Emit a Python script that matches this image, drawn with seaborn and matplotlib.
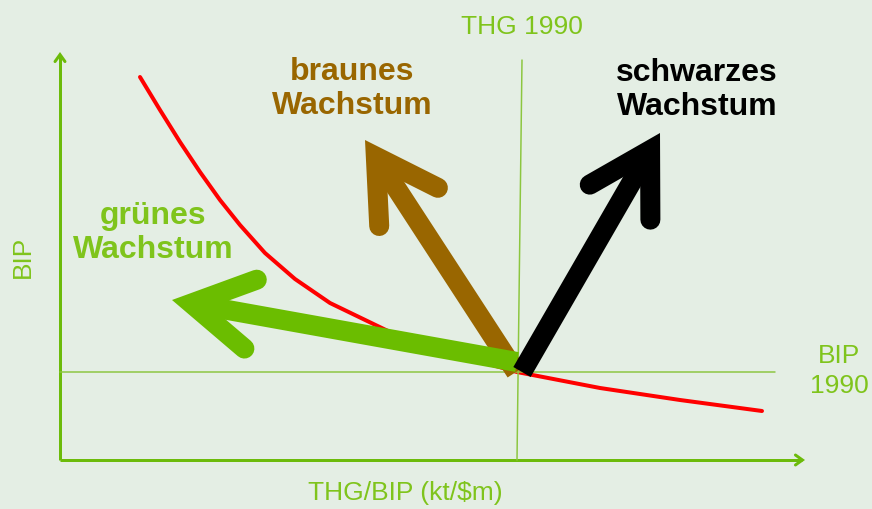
import numpy as np
import pandas as pd
import matplotlib
matplotlib.use('Agg')
import matplotlib.pyplot as plt
import seaborn as sns

# Koordinaten: Ursprung der Achsen = (0, 0), Einheit ~ 1 Pixel
# Kurve konstanter THG-Emissionen
curve_x = [80, 100, 120, 140, 160, 180, 205, 235, 270, 330, 390, 457, 540, 620, 702]
curve_y = [383, 350, 318, 288, 260, 235, 207, 181, 157, 128, 107, 88, 72, 60, 49]

# Referenzpunkt 1990
ref_x = 457
ref_y = 88

# Pfeile: Start und Spitze
arrow_names = ['braun', 'gruen', 'schwarz']
arrow_start = [(456, 88), (457, 98), (462, 88)]
arrow_tip = [(305, 320), (112, 160), (600, 327)]

labels = ['braunes\nWachstum', 'grünes\nWachstum', 'schwarzes\nWachstum']
label_pos = [(292, 371), (93, 227), (637, 370)]

bg = '#e4eee4'
axis_green = '#6cbb0a'
text_green = '#7fc41c'
thin_green = '#8cc63f'
arrow_cols = {'braun': '#996600', 'gruen': '#6bbd00', 'schwarz': '#000000'}
label_cols = ['#996600', '#7fc41c', '#000000']

sns.set_theme(style='white')
plt.rcParams['font.family'] = ['Liberation Sans', 'DejaVu Sans']

DPI = 100
fig = plt.figure(figsize=(8.72, 5.09), dpi=DPI)
fig.patch.set_facecolor(bg)
ax = fig.add_axes([0, 0, 1, 1])
ax.set_facecolor(bg)
ax.set_xlim(-60, 812)
ax.set_ylim(-49, 460)
ax.axis('off')

px = 72.0 / DPI  # Pixel -> Punkt


def draw_arrow(start, tip, color, w, head_len, head_half, z):
    s = np.array(start, float)
    t = np.array(tip, float)
    d = (t - s) / np.linalg.norm(t - s)
    n = np.array([-d[1], d[0]])
    alpha = np.arctan2(head_half, head_len)
    v = t - d * (w / 2) / np.sin(alpha)
    b1 = v - d * head_len + n * head_half
    b2 = v - d * head_len - n * head_half
    ax.plot([s[0], v[0]], [s[1], v[1]], color=color, lw=w * px,
            solid_capstyle='butt', zorder=z)
    ax.plot([b1[0], v[0], b2[0]], [b1[1], v[1], b2[1]], color=color, lw=w * px,
            solid_capstyle='round', solid_joinstyle='miter', zorder=z)


# Achsen
draw_arrow((0, 0), (0, 408), axis_green, 3, 7, 5, 2)
draw_arrow((0, 0), (745, 0), axis_green, 3, 7, 5, 2)

# Kurve
df = pd.DataFrame({'x': curve_x, 'y': curve_y})
sns.lineplot(data=df, x='x', y='y', color='#ff0000', lw=4 * px, sort=False,
             ax=ax, zorder=3)

# Hilfslinien 1990
ax.plot([0, 715], [ref_y, ref_y], color=thin_green, lw=1.5 * px, zorder=4)
ax.plot([ref_x, ref_x + 5], [0, 400], color=thin_green, lw=1.5 * px, zorder=4)

# Pfeile
for name, s, t, z in zip(arrow_names, arrow_start, arrow_tip, [5, 6, 7]):
    draw_arrow(s, t, arrow_cols[name], 20, 60, 35, z)

for lab, (lx, ly), c in zip(labels, label_pos, label_cols):
    ax.text(lx, ly, lab, color=c, fontsize=23, fontweight='bold', ha='center',
            va='center', multialignment='center', linespacing=1.2, zorder=8)

ax.text(462, 433, 'THG 1990', color=text_green, fontsize=19, ha='center', va='center')
ax.text(345, -33, 'THG/BIP (kt/$m)', color=text_green, fontsize=19, ha='center', va='center')
ax.text(-37, 203, 'BIP', color=text_green, fontsize=19, rotation=90, ha='center', va='center')
ax.text(779, 89, 'BIP\n1990', color=text_green, fontsize=19, ha='center', va='center',
        linespacing=1.35)

fig.savefig('out.png', dpi=DPI, facecolor=bg)
